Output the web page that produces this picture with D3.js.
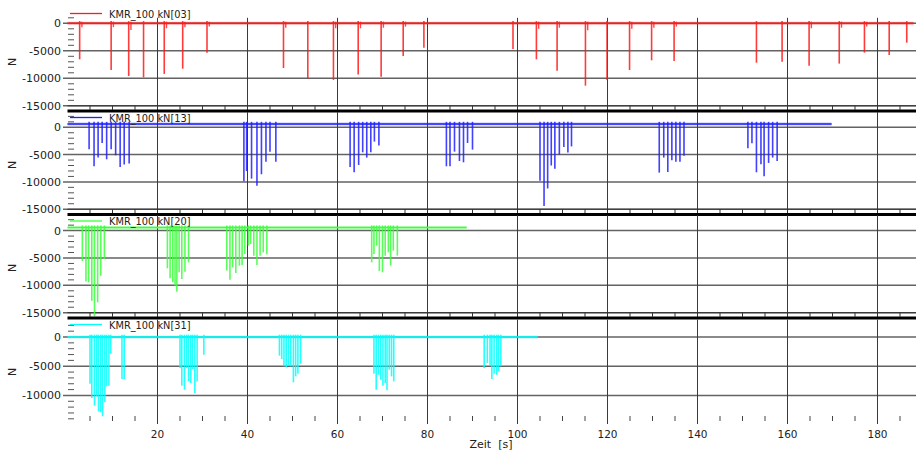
<!DOCTYPE html>
<html>
<head>
<meta charset="utf-8">
<script src="https://cdn.jsdelivr.net/npm/d3@7/dist/d3.min.js"></script>
<style>
  body { margin: 0; background: #fff; }
  text { font-family: "DejaVu Sans", Verdana, sans-serif; fill: #222; }
</style>
</head>
<body>
<script>
! function () {
  // ---- data ----
  let timeTicks = [20, 40, 60, 80, 100, 120, 140, 160, 180];
  let channelNames = ['KMR_100 kN[03]', 'KMR_100 kN[13]', 'KMR_100 kN[20]', 'KMR_100 kN[31]'];
  let channelColors = ['#ff1a1a', '#2020ff', '#3cff3c', '#00ffff'];
  let baseLevels = [0, 600, 550, 0];
  let endTimes = [188, 169.8, 88.7, 104.5];

  // [Zeit s, Kraft N]
  let spikes03 = [
    [2.7, -6550], [9.7, -8500], [13.6, -9580], [16.9, -9820], [21.5, -9200], [25.6, -8250],
    [31.0, -5340], [48.0, -8130], [53.4, -10000], [59.1, -10300], [64.6, -9330], [69.7, -9700],
    [74.6, -5950], [79.2, -4430], [99.0, -4670], [104.2, -6550], [108.8, -8610], [115.1, -11340],
    [119.9, -10300], [124.9, -8500], [129.8, -6730], [134.8, -6850], [153.1, -7160], [158.8, -7000],
    [164.8, -7700], [171.5, -7330], [177.1, -5330], [182.6, -5760], [186.5, -3520]
  ];
  let hooks03 = [
    [3.2, -700], [10.2, -700], [14.1, -1200], [22.0, -900], [26.1, -700], [31.5, -600],
    [48.5, -800], [59.6, -900], [65.1, -900], [70.2, -800], [75.1, -600], [104.7, -1000],
    [109.3, -800], [115.6, -1250], [125.4, -1000], [130.3, -800], [135.3, -600], [165.3, -900],
    [172.0, -800], [177.6, -600]
  ];
  let spikes13 = [
    [4.8, -4030], [5.9, -7140], [6.8, -5550], [7.7, -2870], [8.7, -5860], [9.7, -4030],
    [10.7, -5130], [11.7, -7270], [12.6, -6830], [13.7, -6650],
    [39.2, -9900], [39.8, -8000], [40.9, -9400], [42.1, -10700], [43.1, -8600], [44.1, -6300],
    [45.0, -4500], [46.3, -6300],
    [62.8, -7270], [63.7, -8240], [64.7, -6900], [65.6, -4580], [66.5, -5550], [67.4, -4580],
    [68.2, -2620], [69.2, -3350],
    [84.2, -7140], [85.0, -7140], [86.0, -4460], [87.1, -6170], [88.0, -6410], [88.9, -2870],
    [90.0, -4090],
    [105.0, -9800], [105.9, -14400], [106.7, -11200], [107.5, -7000], [108.3, -7600], [109.3, -5000],
    [110.3, -3600], [111.2, -4600], [112.0, -3500],
    [131.5, -8300], [132.5, -5550], [133.4, -8180], [134.3, -6040], [135.2, -6290], [136.1, -6290],
    [137.0, -5190],
    [151.2, -3850], [152.1, -2930], [153.1, -8240], [154.1, -6780], [154.8, -8970], [155.8, -6530],
    [156.7, -5550], [157.7, -6170]
  ];
  let spikes20 = [
    [3.3, -5560], [4.1, -9320], [4.7, -9450], [5.4, -12800], [6.0, -15600], [6.7, -13100],
    [7.4, -8230], [8.2, -5190],
    [22.2, -6890], [22.8, -8720], [23.4, -9450], [23.9, -10060], [24.3, -11150], [24.8, -7620],
    [25.4, -8840], [26.1, -7500], [26.9, -5800],
    [35.4, -7310], [36.1, -8960], [36.7, -6710], [37.4, -7750], [38.2, -6400], [38.8, -6290],
    [39.4, -4280], [40.2, -2740], [40.7, -2450], [41.4, -4570], [42.1, -6290], [42.8, -4570],
    [43.5, -3970], [44.3, -4330],
    [67.6, -5800], [68.1, -4280], [68.7, -2740], [69.3, -7390], [70.0, -7620], [70.6, -4570],
    [71.3, -3970], [71.8, -6400], [72.4, -3660], [73.3, -4570]
  ];
  let spikes31 = [
    [5.0, -7990], [5.4, -10440], [6.0, -11750], [6.5, -10150], [6.9, -12720], [7.4, -12890],
    [7.8, -13580], [8.3, -11180], [8.7, -8440], [9.2, -8330], [9.6, -2850],
    [12.1, -7190], [12.6, -7190],
    [25.0, -5300], [25.4, -8330], [26.0, -9020], [26.5, -5300], [26.9, -7590], [27.4, -7870],
    [27.8, -5480], [28.3, -9590], [28.8, -7590], [30.3, -3020],
    [47.1, -3190], [47.6, -3770], [48.1, -5020], [48.6, -5140], [49.1, -4900], [49.6, -5020],
    [50.2, -7760], [50.7, -6730], [51.2, -6280], [51.8, -4560],
    [68.1, -6280], [68.6, -9020], [69.1, -6450], [69.6, -7300], [70.1, -8330], [70.6, -7870],
    [71.0, -9130], [71.5, -5590], [72.0, -6730], [72.5, -7590],
    [92.6, -5300], [93.3, -4450], [93.9, -4900], [94.3, -7190], [94.8, -6280], [95.4, -6450],
    [95.8, -5870], [96.3, -5020]
  ];
  let channelSpikes = [spikes03, spikes13, spikes20, spikes31];
  let channelHooks = [hooks03, [], [], []];

  // ---- layout ----
  let W = 916, H = 450;
  let svg = d3.select('body').append('svg').attr('width', W).attr('height', H);

  let x = d3.scaleLinear().domain([0, 188.5]).range([67.5, 915.75]);

  let panels = [
    { dom: [1000, -15000], top: 17.8, bottom: 105.8, legendY: 13.5, labelY: 62 },
    { dom: [2800, -15000], top: 112, bottom: 209.2, legendY: 117.5, labelY: 165 },
    { dom: [2800, -15000], top: 215.3, bottom: 312.7, legendY: 221, labelY: 268 },
    { dom: [3000, -14000], top: 319.5, bottom: 418.8, legendY: 324.5, labelY: 372 }
  ];

  let minorTimes = d3.range(5, 188, 5).filter(t => t % 20 !== 0);

  panels.forEach(function (p, i) {
    let y = d3.scaleLinear().domain(p.dom).range([p.top, p.bottom]);
    let g = svg.append('g');
    let last = i === panels.length - 1;

    // horizontal grid lines (major)
    let majors = [0, -5000, -10000, -15000].filter(v => v <= p.dom[0] && v >= p.dom[1]);
    g.selectAll('.hgrid').data(majors).enter().append('line')
      .attr('x1', 63).attr('x2', W)
      .attr('y1', d => y(d)).attr('y2', d => y(d))
      .style('stroke', '#636363').style('stroke-width', 1.5);

    g.selectAll('.ylab').data(majors).enter().append('text')
      .attr('x', 61).attr('y', d => y(d)).attr('dy', '0.36em')
      .attr('text-anchor', 'end').style('font-size', '11px')
      .text(d => d);

    // minor y ticks every 1000
    let minors = d3.range(2000, -15001, -1000)
      .filter(v => v % 5000 !== 0 && v <= p.dom[0] && v >= p.dom[1]);
    g.selectAll('.ymin').data(minors).enter().append('line')
      .attr('x1', 68).attr('x2', 74)
      .attr('y1', d => y(d)).attr('y2', d => y(d))
      .style('stroke', '#555').style('stroke-width', 1);

    // vertical grid lines
    let gridBottom = last ? 424 : p.bottom + 4.5;
    g.selectAll('.vgrid').data(timeTicks).enter().append('line')
      .attr('x1', d => x(d)).attr('x2', d => x(d))
      .attr('y1', p.top).attr('y2', gridBottom)
      .style('stroke', '#3a3a3a').style('stroke-width', 1);

    if (!last) {
      // bottom strip of the panel: thin line, 5 s ticks, heavy separator
      g.append('line')
        .attr('x1', 67.5).attr('x2', W).attr('y1', p.bottom).attr('y2', p.bottom)
        .style('stroke', '#333').style('stroke-width', 1);
      g.selectAll('.xmin').data(d3.range(5, 188, 5)).enter().append('line')
        .attr('x1', d => x(d)).attr('x2', d => x(d))
        .attr('y1', p.bottom).attr('y2', p.bottom + 4)
        .style('stroke', '#333').style('stroke-width', 1);
      g.append('line')
        .attr('x1', 67.5).attr('x2', W).attr('y1', p.bottom + 5.3).attr('y2', p.bottom + 5.3)
        .style('stroke', '#000').style('stroke-width', 3);
    } else {
      g.selectAll('.xmin').data(minorTimes).enter().append('line')
        .attr('x1', d => x(d)).attr('x2', d => x(d))
        .attr('y1', 416).attr('y2', 421)
        .style('stroke', '#444').style('stroke-width', 1);
      g.selectAll('.xlab').data(timeTicks).enter().append('text')
        .attr('x', d => x(d)).attr('y', 438)
        .attr('text-anchor', 'middle').style('font-size', '10.5px')
        .text(d => d);
      g.append('text')
        .attr('x', 491).attr('y', 447.5)
        .attr('text-anchor', 'middle').style('font-size', '11px')
        .style('white-space', 'pre').attr('xml:space', 'preserve')
        .text('Zeit  [s]');
    }

    // y axis unit
    g.append('text')
      .attr('transform', 'translate(16,' + p.labelY + ') rotate(-90)')
      .attr('text-anchor', 'middle').style('font-size', '11px')
      .text('N');

    // ---- data ----
    let col = channelColors[i];
    let base = baseLevels[i];
    let dg = g.append('g');

    dg.selectAll('.hook').data(channelHooks[i]).enter().append('line')
      .attr('x1', d => x(d[0])).attr('x2', d => x(d[0]))
      .attr('y1', y(base + 300)).attr('y2', d => y(d[1]))
      .style('stroke', col).style('stroke-width', 1.4).style('opacity', 0.8);

    dg.selectAll('.spike').data(channelSpikes[i]).enter().append('line')
      .attr('x1', d => x(d[0])).attr('x2', d => x(d[0]))
      .attr('y1', y(base + 400)).attr('y2', d => y(d[1]))
      .style('stroke', col).style('stroke-width', 1.6).style('opacity', 0.85);

    // baseline of the signal
    let lineGen = d3.line().x(d => x(d[0])).y(d => y(d[1]));
    let basePts = [[0, base], [endTimes[i], base]];
    dg.append('path')
      .attr('d', lineGen(basePts))
      .style('stroke', col).style('stroke-width', 3.2).style('opacity', 0.3)
      .style('fill', 'none');
    dg.append('path')
      .attr('d', lineGen(basePts))
      .style('stroke', col).style('stroke-width', 1.5)
      .style('fill', 'none');

    // legend
    g.append('line')
      .attr('x1', 70).attr('x2', 102).attr('y1', p.legendY).attr('y2', p.legendY)
      .style('stroke', col).style('stroke-width', 1.3);
    g.append('text')
      .attr('x', 109).attr('y', p.legendY + 4)
      .style('font-size', '9.8px')
      .text(channelNames[i]);
  });
}()
</script>
</body>
</html>
